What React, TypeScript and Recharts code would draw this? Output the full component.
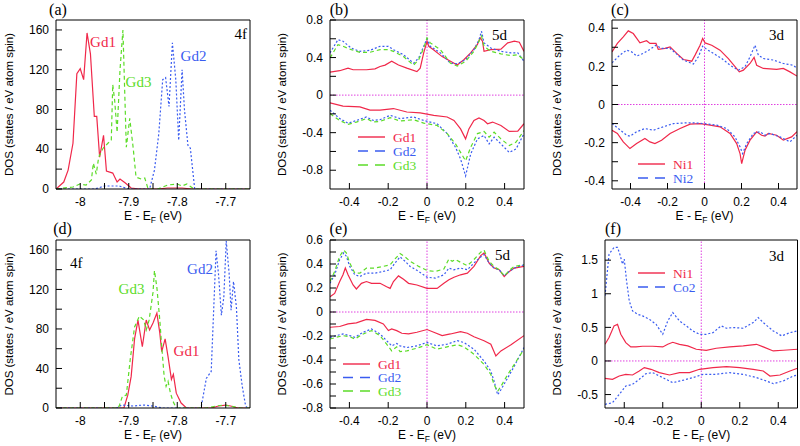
import React from "react";
import { LineChart, Line, XAxis, YAxis, ReferenceLine, Legend } from "recharts";

type Pt = [number, number];

const RED = "#f0284a";
const BLUE = "#3a5cf0";
const GREEN = "#5cdc28";
const MAGENTA = "#e040e0";
const DOT = "2 2";
const DASH = "4 3";
const SANS = "'Liberation Sans', Arial, Helvetica, sans-serif";
const SERIF = "'Liberation Serif', 'Times New Roman', serif";

// (a) Gd 4f
const aGd1: Pt[] = [[-8.05, 0], [-8.034, 7], [-8.025, 19], [-8.015, 46], [-8.007, 116], [-8.0, 121], [-7.993, 110], [-7.986, 157], [-7.979, 136], [-7.971, 73], [-7.966, 73], [-7.96, 32], [-7.952, 54], [-7.946, 18], [-7.933, 16], [-7.924, 7], [-7.918, 10], [-7.907, 6], [-7.895, 1], [-7.878, 0], [-7.84, 0], [-7.82, 1], [-7.79, 1], [-7.77, 0], [-7.65, 0]];
const aGd2: Pt[] = [[-8.05, 0], [-7.97, 0], [-7.95, 3], [-7.92, 3], [-7.9, 0], [-7.857, 0], [-7.847, 19], [-7.838, 56], [-7.83, 110], [-7.824, 112], [-7.817, 83], [-7.81, 147], [-7.803, 110], [-7.797, 49], [-7.79, 120], [-7.785, 79], [-7.778, 44], [-7.773, 41], [-7.764, 0], [-7.65, 0]];
const aGd3: Pt[] = [[-8.05, 0], [-8.015, 2], [-8.001, 5], [-7.988, 4], [-7.977, 9], [-7.973, 26], [-7.967, 15], [-7.962, 32], [-7.953, 41], [-7.943, 46], [-7.936, 49], [-7.933, 105], [-7.929, 89], [-7.924, 57], [-7.918, 120], [-7.912, 160], [-7.905, 42], [-7.898, 71], [-7.891, 42], [-7.885, 12], [-7.874, 10], [-7.867, 11], [-7.86, 0], [-7.84, 0], [-7.82, 4], [-7.8, 5], [-7.79, 3], [-7.78, 5], [-7.765, 0], [-7.65, 0]];

// (b) Gd 5d
const bGd1Up: Pt[] = [[-0.5, 0.244], [-0.45, 0.26], [-0.407, 0.287], [-0.381, 0.27], [-0.312, 0.27], [-0.268, 0.28], [-0.242, 0.305], [-0.216, 0.32], [-0.182, 0.36], [-0.147, 0.32], [-0.104, 0.287], [-0.052, 0.25], [-0.035, 0.287], [-0.017, 0.45], [0, 0.574], [0.009, 0.52], [0.035, 0.48], [0.078, 0.41], [0.121, 0.36], [0.156, 0.32], [0.19, 0.377], [0.225, 0.45], [0.26, 0.54], [0.274, 0.61], [0.286, 0.574], [0.294, 0.466], [0.329, 0.484], [0.381, 0.49], [0.416, 0.556], [0.45, 0.574], [0.476, 0.563], [0.5, 0.466]];
const bGd2Up: Pt[] = [[-0.5, 0.45], [-0.459, 0.59], [-0.433, 0.574], [-0.39, 0.5], [-0.346, 0.466], [-0.294, 0.477], [-0.242, 0.52], [-0.199, 0.52], [-0.173, 0.484], [-0.121, 0.43], [-0.069, 0.34], [-0.043, 0.395], [-0.017, 0.52], [0, 0.6], [0.017, 0.52], [0.069, 0.45], [0.121, 0.34], [0.156, 0.334], [0.199, 0.377], [0.242, 0.484], [0.268, 0.59], [0.281, 0.68], [0.294, 0.556], [0.329, 0.502], [0.381, 0.466], [0.433, 0.45], [0.468, 0.45], [0.5, 0.36]];
const bGd3Up: Pt[] = [[-0.5, 0.395], [-0.459, 0.538], [-0.433, 0.52], [-0.39, 0.484], [-0.346, 0.456], [-0.294, 0.456], [-0.242, 0.484], [-0.199, 0.484], [-0.173, 0.466], [-0.121, 0.41], [-0.069, 0.32], [-0.043, 0.377], [-0.017, 0.5], [0, 0.61], [0.017, 0.556], [0.069, 0.484], [0.121, 0.34], [0.156, 0.31], [0.199, 0.36], [0.242, 0.466], [0.268, 0.574], [0.281, 0.63], [0.294, 0.52], [0.329, 0.466], [0.381, 0.44], [0.433, 0.42], [0.468, 0.43], [0.5, 0.377]];
const bGd1Dn: Pt[] = [[-0.5, -0.083], [-0.433, -0.118], [-0.346, -0.126], [-0.294, -0.16], [-0.242, -0.16], [-0.173, -0.143], [-0.104, -0.18], [-0.035, -0.19], [0.035, -0.215], [0.104, -0.233], [0.139, -0.27], [0.173, -0.36], [0.199, -0.466], [0.216, -0.36], [0.242, -0.27], [0.268, -0.244], [0.294, -0.27], [0.312, -0.305], [0.338, -0.287], [0.381, -0.323], [0.424, -0.387], [0.468, -0.384], [0.5, -0.305]];
const bGd2Dn: Pt[] = [[-0.5, -0.16], [-0.45, -0.25], [-0.407, -0.3], [-0.364, -0.27], [-0.312, -0.233], [-0.277, -0.27], [-0.242, -0.262], [-0.19, -0.215], [-0.139, -0.25], [-0.069, -0.233], [-0.017, -0.27], [0.052, -0.305], [0.104, -0.41], [0.147, -0.556], [0.173, -0.68], [0.199, -0.86], [0.225, -0.628], [0.26, -0.466], [0.294, -0.43], [0.32, -0.52], [0.346, -0.448], [0.381, -0.52], [0.424, -0.61], [0.459, -0.574], [0.5, -0.41]];
const bGd3Dn: Pt[] = [[-0.5, -0.197], [-0.45, -0.27], [-0.407, -0.312], [-0.364, -0.287], [-0.312, -0.25], [-0.277, -0.287], [-0.242, -0.28], [-0.19, -0.24], [-0.139, -0.276], [-0.069, -0.262], [-0.017, -0.298], [0.052, -0.323], [0.104, -0.41], [0.147, -0.52], [0.173, -0.61], [0.199, -0.7], [0.225, -0.556], [0.26, -0.41], [0.294, -0.387], [0.32, -0.448], [0.346, -0.395], [0.381, -0.466], [0.424, -0.538], [0.459, -0.5], [0.5, -0.377]];

// (c) Ni 3d
const cNi1Up: Pt[] = [[-0.5, 0.276], [-0.471, 0.32], [-0.439, 0.355], [-0.412, 0.386], [-0.385, 0.372], [-0.349, 0.323], [-0.313, 0.334], [-0.295, 0.32], [-0.262, 0.32], [-0.25, 0.289], [-0.214, 0.294], [-0.186, 0.302], [-0.15, 0.268], [-0.114, 0.236], [-0.069, 0.227], [-0.051, 0.259], [-0.024, 0.311], [-0.01, 0.346], [0.003, 0.323], [0.039, 0.311], [0.084, 0.285], [0.129, 0.241], [0.165, 0.198], [0.188, 0.171], [0.21, 0.18], [0.246, 0.215], [0.268, 0.247], [0.282, 0.206], [0.318, 0.189], [0.39, 0.184], [0.426, 0.189], [0.462, 0.171], [0.5, 0.149]];
const cNi2Up: Pt[] = [[-0.5, 0.219], [-0.457, 0.259], [-0.421, 0.285], [-0.394, 0.276], [-0.367, 0.254], [-0.331, 0.268], [-0.295, 0.289], [-0.262, 0.311], [-0.232, 0.294], [-0.186, 0.294], [-0.15, 0.264], [-0.114, 0.233], [-0.06, 0.212], [-0.033, 0.25], [-0.01, 0.306], [0.012, 0.289], [0.048, 0.268], [0.093, 0.241], [0.138, 0.206], [0.183, 0.18], [0.219, 0.198], [0.246, 0.25], [0.273, 0.311], [0.291, 0.259], [0.318, 0.241], [0.372, 0.233], [0.426, 0.215], [0.48, 0.206], [0.5, 0.189]];
const cNi1Dn: Pt[] = [[-0.5, -0.135], [-0.471, -0.152], [-0.439, -0.196], [-0.403, -0.231], [-0.367, -0.205], [-0.322, -0.178], [-0.295, -0.196], [-0.268, -0.205], [-0.232, -0.187], [-0.186, -0.152], [-0.132, -0.126], [-0.078, -0.103], [-0.024, -0.1], [0.03, -0.108], [0.084, -0.117], [0.138, -0.152], [0.174, -0.205], [0.192, -0.257], [0.201, -0.31], [0.219, -0.24], [0.246, -0.187], [0.282, -0.143], [0.309, -0.161], [0.327, -0.166], [0.345, -0.152], [0.39, -0.161], [0.426, -0.187], [0.471, -0.17], [0.5, -0.143]];
const cNi2Dn: Pt[] = [[-0.5, -0.1], [-0.466, -0.126], [-0.421, -0.161], [-0.403, -0.166], [-0.367, -0.143], [-0.322, -0.126], [-0.277, -0.135], [-0.223, -0.117], [-0.168, -0.1], [-0.096, -0.096], [-0.06, -0.096], [-0.006, -0.1], [0.066, -0.108], [0.12, -0.126], [0.165, -0.17], [0.192, -0.222], [0.206, -0.257], [0.228, -0.205], [0.264, -0.152], [0.3, -0.143], [0.327, -0.161], [0.354, -0.152], [0.408, -0.17], [0.462, -0.196], [0.5, -0.161]];

// (d) Gd 4f
const dGd1: Pt[] = [[-8.05, 0], [-7.91, 0], [-7.902, 13], [-7.895, 32], [-7.888, 70], [-7.881, 89], [-7.872, 62], [-7.864, 89], [-7.857, 79], [-7.85, 86], [-7.842, 96], [-7.836, 76], [-7.832, 57], [-7.825, 70], [-7.819, 52], [-7.812, 29], [-7.808, 34], [-7.802, 15], [-7.792, 5], [-7.781, 0], [-7.73, 0], [-7.715, 2], [-7.7, 3], [-7.69, 2], [-7.675, 0], [-7.65, 0]];
const dGd2: Pt[] = [[-8.05, 0], [-7.925, 0], [-7.915, 3], [-7.89, 2], [-7.87, 3], [-7.85, 2], [-7.83, 0], [-7.751, 0], [-7.74, 30], [-7.73, 37], [-7.72, 159], [-7.715, 136], [-7.709, 94], [-7.704, 112], [-7.699, 169], [-7.693, 136], [-7.689, 99], [-7.684, 128], [-7.678, 102], [-7.673, 49], [-7.666, 22], [-7.659, 2], [-7.655, 0], [-7.65, 0]];
const dGd3: Pt[] = [[-8.05, 0], [-7.922, 0], [-7.919, 3], [-7.913, 12], [-7.905, 13], [-7.897, 49], [-7.888, 82], [-7.878, 93], [-7.869, 89], [-7.864, 79], [-7.858, 89], [-7.85, 117], [-7.847, 139], [-7.842, 122], [-7.836, 89], [-7.832, 62], [-7.827, 32], [-7.823, 22], [-7.819, 27], [-7.814, 15], [-7.809, 7], [-7.802, 0], [-7.74, 0], [-7.72, 2], [-7.705, 3], [-7.69, 2], [-7.67, 0], [-7.65, 0]];

// (e) Gd 5d
const eGd1Up: Pt[] = [[-0.5, 0.127], [-0.476, 0.155], [-0.45, 0.254], [-0.433, 0.31], [-0.421, 0.366], [-0.407, 0.31], [-0.381, 0.225], [-0.364, 0.192], [-0.338, 0.239], [-0.312, 0.254], [-0.286, 0.239], [-0.242, 0.239], [-0.208, 0.211], [-0.19, 0.197], [-0.173, 0.254], [-0.147, 0.301], [-0.121, 0.273], [-0.095, 0.239], [-0.052, 0.225], [0, 0.197], [0.052, 0.197], [0.087, 0.239], [0.113, 0.268], [0.139, 0.29], [0.173, 0.31], [0.208, 0.324], [0.242, 0.38], [0.277, 0.47], [0.294, 0.493], [0.32, 0.408], [0.346, 0.366], [0.372, 0.352], [0.398, 0.296], [0.424, 0.338], [0.45, 0.366], [0.5, 0.38]];
const eGd2Up: Pt[] = [[-0.5, 0.239], [-0.476, 0.31], [-0.45, 0.437], [-0.429, 0.493], [-0.416, 0.465], [-0.398, 0.38], [-0.372, 0.31], [-0.346, 0.296], [-0.312, 0.324], [-0.268, 0.324], [-0.225, 0.338], [-0.19, 0.352], [-0.165, 0.408], [-0.139, 0.459], [-0.113, 0.423], [-0.087, 0.38], [-0.043, 0.338], [0, 0.29], [0.043, 0.282], [0.087, 0.31], [0.113, 0.366], [0.139, 0.352], [0.173, 0.366], [0.208, 0.352], [0.242, 0.408], [0.277, 0.459], [0.294, 0.479], [0.32, 0.408], [0.346, 0.366], [0.372, 0.352], [0.398, 0.301], [0.424, 0.338], [0.45, 0.366], [0.5, 0.394]];
const eGd3Up: Pt[] = [[-0.5, 0.254], [-0.476, 0.338], [-0.45, 0.465], [-0.429, 0.515], [-0.416, 0.493], [-0.398, 0.408], [-0.372, 0.324], [-0.346, 0.324], [-0.312, 0.366], [-0.268, 0.366], [-0.225, 0.38], [-0.19, 0.394], [-0.165, 0.442], [-0.139, 0.487], [-0.113, 0.459], [-0.087, 0.423], [-0.043, 0.38], [0, 0.346], [0.043, 0.338], [0.087, 0.358], [0.113, 0.442], [0.13, 0.423], [0.147, 0.437], [0.173, 0.414], [0.208, 0.386], [0.242, 0.437], [0.277, 0.499], [0.294, 0.515], [0.32, 0.423], [0.346, 0.38], [0.372, 0.352], [0.398, 0.301], [0.424, 0.346], [0.45, 0.38], [0.5, 0.394]];
const eGd1Dn: Pt[] = [[-0.5, -0.127], [-0.45, -0.121], [-0.407, -0.099], [-0.364, -0.09], [-0.312, -0.062], [-0.268, -0.07], [-0.225, -0.099], [-0.199, -0.155], [-0.182, -0.141], [-0.156, -0.155], [-0.13, -0.177], [-0.095, -0.183], [-0.052, -0.169], [0, -0.146], [0.035, -0.169], [0.078, -0.197], [0.121, -0.183], [0.173, -0.163], [0.208, -0.177], [0.242, -0.206], [0.294, -0.239], [0.329, -0.268], [0.355, -0.366], [0.381, -0.324], [0.433, -0.273], [0.5, -0.197]];
const eGd2Dn: Pt[] = [[-0.5, -0.211], [-0.468, -0.197], [-0.433, -0.183], [-0.398, -0.197], [-0.372, -0.211], [-0.329, -0.169], [-0.286, -0.141], [-0.242, -0.183], [-0.208, -0.239], [-0.182, -0.282], [-0.156, -0.262], [-0.139, -0.282], [-0.104, -0.296], [-0.052, -0.282], [0, -0.254], [0.052, -0.282], [0.104, -0.268], [0.156, -0.239], [0.19, -0.254], [0.242, -0.31], [0.294, -0.408], [0.329, -0.493], [0.346, -0.577], [0.364, -0.69], [0.381, -0.648], [0.416, -0.549], [0.45, -0.451], [0.5, -0.296]];
const eGd3Dn: Pt[] = [[-0.5, -0.225], [-0.468, -0.211], [-0.433, -0.197], [-0.398, -0.206], [-0.372, -0.225], [-0.329, -0.183], [-0.286, -0.155], [-0.242, -0.197], [-0.208, -0.268], [-0.182, -0.324], [-0.156, -0.29], [-0.139, -0.33], [-0.104, -0.324], [-0.052, -0.301], [0, -0.273], [0.052, -0.31], [0.104, -0.29], [0.156, -0.273], [0.19, -0.29], [0.242, -0.352], [0.294, -0.437], [0.329, -0.521], [0.346, -0.606], [0.364, -0.662], [0.381, -0.62], [0.416, -0.521], [0.45, -0.437], [0.5, -0.31]];

// (f) Ni / Co 3d
const fNi1Up: Pt[] = [[-0.5, 0.248], [-0.479, 0.348], [-0.453, 0.522], [-0.435, 0.546], [-0.418, 0.397], [-0.392, 0.273], [-0.366, 0.209], [-0.339, 0.209], [-0.305, 0.219], [-0.252, 0.219], [-0.2, 0.209], [-0.174, 0.248], [-0.148, 0.278], [-0.113, 0.248], [-0.07, 0.224], [-0.026, 0.174], [0.026, 0.159], [0.078, 0.189], [0.148, 0.209], [0.218, 0.224], [0.287, 0.248], [0.322, 0.209], [0.374, 0.149], [0.426, 0.159], [0.5, 0.174]];
const fCo2Up: Pt[] = [[-0.5, 0.969], [-0.479, 1.59], [-0.453, 1.689], [-0.435, 1.689], [-0.423, 1.59], [-0.409, 1.441], [-0.4, 1.515], [-0.388, 1.192], [-0.374, 0.894], [-0.357, 0.745], [-0.331, 0.695], [-0.305, 0.671], [-0.27, 0.621], [-0.235, 0.546], [-0.2, 0.397], [-0.174, 0.596], [-0.148, 0.72], [-0.113, 0.596], [-0.078, 0.522], [-0.044, 0.447], [-0.009, 0.397], [0.026, 0.397], [0.061, 0.422], [0.104, 0.522], [0.131, 0.487], [0.165, 0.497], [0.218, 0.487], [0.27, 0.571], [0.296, 0.646], [0.322, 0.571], [0.374, 0.447], [0.418, 0.373], [0.461, 0.422], [0.5, 0.447]];
const fNi1Dn: Pt[] = [[-0.5, -0.258], [-0.461, -0.273], [-0.426, -0.224], [-0.392, -0.199], [-0.357, -0.209], [-0.322, -0.149], [-0.296, -0.099], [-0.261, -0.124], [-0.218, -0.174], [-0.165, -0.209], [-0.113, -0.174], [-0.061, -0.174], [-0.009, -0.124], [0.061, -0.099], [0.131, -0.084], [0.2, -0.099], [0.27, -0.124], [0.322, -0.149], [0.357, -0.224], [0.409, -0.209], [0.461, -0.149], [0.5, -0.109]];
const fCo2Dn: Pt[] = [[-0.5, -0.646], [-0.461, -0.621], [-0.426, -0.497], [-0.392, -0.373], [-0.357, -0.348], [-0.322, -0.273], [-0.287, -0.189], [-0.252, -0.174], [-0.2, -0.248], [-0.148, -0.323], [-0.096, -0.288], [-0.044, -0.248], [0.009, -0.199], [0.078, -0.199], [0.148, -0.174], [0.218, -0.199], [0.287, -0.248], [0.339, -0.298], [0.374, -0.338], [0.426, -0.298], [0.478, -0.224], [0.5, -0.209]];

// ticks
const gdXTicks = [-8, -7.95, -7.9, -7.85, -7.8, -7.75, -7.7];
const gdXLabels = [-8, -7.9, -7.8, -7.7];
const gdYTicks = [0, 20, 40, 60, 80, 100, 120, 140, 160];
const gdYLabels = [0, 40, 80, 120, 160];
const eXTicks = [-0.4, -0.2, 0, 0.2, 0.4];
const bYTicks = [-0.8, -0.6, -0.4, -0.2, 0, 0.2, 0.4, 0.6, 0.8];
const bYLabels = [-0.8, -0.4, 0, 0.4, 0.8];
const cYTicks = [-0.4, -0.3, -0.2, -0.1, 0, 0.1, 0.2, 0.3, 0.4];
const cYLabels = [-0.4, -0.2, 0, 0.2, 0.4];
const eYTicks = [-0.8, -0.7, -0.6, -0.5, -0.4, -0.3, -0.2, -0.1, 0, 0.1, 0.2, 0.3, 0.4, 0.5, 0.6];
const eYLabels = [-0.8, -0.6, -0.4, -0.2, 0, 0.2, 0.4, 0.6];
const fYTicks = [-0.5, 0, 0.5, 1, 1.5];

type Curve = { pts: Pt[]; color: string; dash?: string };
type LegendItem = { name: string; color: string; dash?: string };
type PanelCfg = {
  id: string;
  box: [number, number, number, number];
  plot: [number, number, number, number];
  xDomain: [number, number];
  yDomain: [number, number];
  xTicks: number[];
  xLabels: number[];
  yTicks: number[];
  yLabels: number[];
  yTitleX: number;
  zero: boolean;
  curves: Curve[];
  legend?: { x: number; y: number; gap: number; items: LegendItem[] };
};

const gdLegend: LegendItem[] = [
  { name: "Gd1", color: RED },
  { name: "Gd2", color: BLUE, dash: "10 7" },
  { name: "Gd3", color: GREEN, dash: "10 7" },
];

const panels: PanelCfg[] = [
  {
    id: "a", box: [0, 0, 258, 232], plot: [56, 20, 250, 189],
    xDomain: [-8.05, -7.65], yDomain: [0, 170],
    xTicks: gdXTicks, xLabels: gdXLabels, yTicks: gdYTicks, yLabels: gdYLabels,
    yTitleX: 8.5, zero: false,
    curves: [{ pts: aGd1, color: RED }, { pts: aGd2, color: BLUE, dash: DOT }, { pts: aGd3, color: GREEN, dash: DASH }],
  },
  {
    id: "b", box: [258, 0, 272, 232], plot: [330, 20, 524, 189],
    xDomain: [-0.5, 0.5], yDomain: [-1, 0.8],
    xTicks: eXTicks, xLabels: eXTicks, yTicks: bYTicks, yLabels: bYLabels,
    yTitleX: 23.7, zero: true,
    curves: [
      { pts: bGd1Up, color: RED }, { pts: bGd1Dn, color: RED },
      { pts: bGd2Up, color: BLUE, dash: DOT }, { pts: bGd2Dn, color: BLUE, dash: DOT },
      { pts: bGd3Up, color: GREEN, dash: DASH }, { pts: bGd3Dn, color: GREEN, dash: DASH },
    ],
    legend: { x: 350, y: 128, gap: 14, items: gdLegend },
  },
  {
    id: "c", box: [530, 0, 270, 232], plot: [612, 20, 797, 189],
    xDomain: [-0.5, 0.5], yDomain: [-0.443, 0.443],
    xTicks: eXTicks, xLabels: eXTicks, yTicks: cYTicks, yLabels: cYLabels,
    yTitleX: 26.7, zero: true,
    curves: [
      { pts: cNi1Up, color: RED }, { pts: cNi1Dn, color: RED },
      { pts: cNi2Up, color: BLUE, dash: DOT }, { pts: cNi2Dn, color: BLUE, dash: DOT },
    ],
    legend: { x: 630, y: 155, gap: 14, items: [{ name: "Ni1", color: RED }, { name: "Ni2", color: BLUE, dash: "10 7" }] },
  },
  {
    id: "d", box: [0, 224, 258, 222], plot: [56, 240, 250, 408],
    xDomain: [-8.05, -7.65], yDomain: [0, 170],
    xTicks: gdXTicks, xLabels: gdXLabels, yTicks: gdYTicks, yLabels: gdYLabels,
    yTitleX: 9, zero: false,
    curves: [{ pts: dGd1, color: RED }, { pts: dGd2, color: BLUE, dash: DOT }, { pts: dGd3, color: GREEN, dash: DASH }],
  },
  {
    id: "e", box: [258, 224, 272, 222], plot: [330, 240, 524, 408],
    xDomain: [-0.5, 0.5], yDomain: [-0.8, 0.6],
    xTicks: eXTicks, xLabels: eXTicks, yTicks: eYTicks, yLabels: eYLabels,
    yTitleX: 23.7, zero: true,
    curves: [
      { pts: eGd1Up, color: RED }, { pts: eGd1Dn, color: RED },
      { pts: eGd2Up, color: BLUE, dash: DOT }, { pts: eGd2Dn, color: BLUE, dash: DOT },
      { pts: eGd3Up, color: GREEN, dash: DASH }, { pts: eGd3Dn, color: GREEN, dash: DASH },
    ],
    legend: { x: 335, y: 355, gap: 13.5, items: gdLegend },
  },
  {
    id: "f", box: [530, 224, 270, 222], plot: [605, 240, 797.5, 408],
    xDomain: [-0.5, 0.5], yDomain: [-0.7, 1.8],
    xTicks: eXTicks, xLabels: eXTicks, yTicks: fYTicks, yLabels: fYTicks,
    yTitleX: 26.7, zero: true,
    curves: [
      { pts: fNi1Up, color: RED }, { pts: fNi1Dn, color: RED },
      { pts: fCo2Up, color: BLUE, dash: DOT }, { pts: fCo2Dn, color: BLUE, dash: DOT },
    ],
    legend: { x: 630, y: 264, gap: 14, items: [{ name: "Ni1", color: RED }, { name: "Co2", color: BLUE, dash: "10 7" }] },
  },
];

// text drawn on top of the panels
const notes = [
  { t: "(a)", x: 58, y: 9, c: "#000", a: "middle" },
  { t: "(b)", x: 339, y: 9, c: "#000", a: "middle" },
  { t: "(c)", x: 620, y: 9, c: "#000", a: "middle" },
  { t: "(d)", x: 62.5, y: 228, c: "#000", a: "middle" },
  { t: "(e)", x: 338.5, y: 228, c: "#000", a: "middle" },
  { t: "(f)", x: 613, y: 228, c: "#000", a: "middle" },
  { t: "4f", x: 247, y: 34, c: "#000", a: "end" },
  { t: "5d", x: 507, y: 35, c: "#000", a: "end" },
  { t: "3d", x: 784, y: 35, c: "#000", a: "end" },
  { t: "4f", x: 70, y: 263, c: "#000", a: "start" },
  { t: "5d", x: 510, y: 255, c: "#000", a: "end" },
  { t: "3d", x: 784, y: 256, c: "#000", a: "end" },
  { t: "Gd1", x: 103, y: 42, c: RED, a: "middle" },
  { t: "Gd3", x: 138.5, y: 82, c: GREEN, a: "middle" },
  { t: "Gd2", x: 193.5, y: 56, c: BLUE, a: "middle" },
  { t: "Gd3", x: 131.5, y: 289, c: GREEN, a: "middle" },
  { t: "Gd2", x: 200, y: 269, c: BLUE, a: "middle" },
  { t: "Gd1", x: 186.5, y: 351, c: RED, a: "middle" },
];

const rows = (pts: Pt[]) => pts.map(([x, y]) => ({ x, y }));
const fmt = (labels: number[]) => (v: number) =>
  labels.some((l) => Math.abs(l - v) < 1e-9) ? String(Math.round(v * 1000) / 1000) : "";

const tickStyle = { fill: "#000", fontSize: 12, fontFamily: SANS };

function Panel({ cfg }: { cfg: PanelCfg }) {
  const [bl, bt, bw, bh] = cfg.box;
  const [x0, y0, x1, y1] = cfg.plot;
  const cx = (x0 + x1) / 2 - bl;
  const cy = (y0 + y1) / 2 - bt;
  const lg = cfg.legend;
  return (
    <div style={{ position: "absolute", left: bl, top: bt }}>
      <LineChart
        width={bw}
        height={bh}
        margin={{ top: y0 - bt - 1, right: bl + bw - x1 - 1, left: 0, bottom: 0 }}
      >
        <XAxis
          xAxisId="b" type="number" dataKey="x" domain={cfg.xDomain} allowDataOverflow
          ticks={cfg.xTicks} interval={0} tickSize={-6} tickMargin={14}
          height={bt + bh - y1} stroke="#000" tick={tickStyle} tickFormatter={fmt(cfg.xLabels)}
          label={{
            content: () => (
              <text x={cx} y={y1 - bt + 31} textAnchor="middle" fontSize={12} fontFamily={SANS} fill="#000">
                E - E<tspan fontSize={8.5} dy={3}>F</tspan>
                <tspan dy={-3}> (eV)</tspan>
              </text>
            ),
          }}
        />
        <XAxis
          xAxisId="t" orientation="top" type="number" domain={cfg.xDomain} allowDataOverflow
          ticks={cfg.xTicks} interval={0} tickSize={-6} height={1} stroke="#000" tick={false}
        />
        <YAxis
          yAxisId="l" type="number" domain={cfg.yDomain} allowDataOverflow
          ticks={cfg.yTicks} interval={0} tickSize={-6} tickMargin={13}
          width={x0 - bl} stroke="#000" tick={tickStyle} tickFormatter={fmt(cfg.yLabels)}
          label={{
            content: () => (
              <text
                x={cfg.yTitleX} y={cy} transform={`rotate(-90 ${cfg.yTitleX} ${cy})`}
                textAnchor="middle" dominantBaseline="central" fontSize={11.5} fontFamily={SANS} fill="#000"
              >
                DOS (states / eV atom spin)
              </text>
            ),
          }}
        />
        <YAxis
          yAxisId="r" orientation="right" type="number" domain={cfg.yDomain} allowDataOverflow
          ticks={cfg.yTicks} interval={0} tickSize={-6} width={1} stroke="#000" tick={false}
        />
        {cfg.zero && (
          <ReferenceLine xAxisId="b" yAxisId="l" x={0} stroke={MAGENTA} strokeDasharray="1.5 1.5" />
        )}
        {cfg.zero && (
          <ReferenceLine xAxisId="b" yAxisId="l" y={0} stroke={MAGENTA} strokeDasharray="1.5 1.5" />
        )}
        {cfg.curves.map((c, i) => (
          <Line
            key={cfg.id + i}
            xAxisId="b"
            yAxisId="l"
            data={rows(c.pts)}
            dataKey="y"
            type="linear"
            stroke={c.color}
            strokeWidth={1.2}
            strokeDasharray={c.dash}
            dot={false}
            activeDot={false}
            isAnimationActive={false}
          />
        ))}
        {lg && (
          <Legend
            layout="vertical"
            align="center"
            verticalAlign="middle"
            wrapperStyle={{ left: lg.x - bl, top: lg.y - bt, width: 80, height: lg.gap * lg.items.length + 8 }}
            content={() => (
              <svg width={80} height={lg.gap * lg.items.length + 8}>
                {lg.items.map((it, k) => (
                  <g key={it.name}>
                    <line
                      x1={8} x2={35} y1={9 + k * lg.gap} y2={9 + k * lg.gap}
                      stroke={it.color} strokeWidth={1.4} strokeDasharray={it.dash}
                    />
                    <text x={43} y={9 + k * lg.gap} dy="0.35em" fontSize={13.5} fontFamily={SERIF} fill={it.color}>
                      {it.name}
                    </text>
                  </g>
                ))}
              </svg>
            )}
          />
        )}
      </LineChart>
    </div>
  );
}

export default function App() {
  return (
    <div style={{ position: "absolute", left: 0, top: 0, width: 800, height: 446, overflow: "hidden", background: "#fff" }}>
      {panels.map((p) => (
        <Panel key={p.id} cfg={p} />
      ))}
      <svg width={800} height={446} style={{ position: "absolute", left: 0, top: 0, pointerEvents: "none" }}>
        {notes.map((n, i) => (
          <text
            key={i} x={n.x} y={n.y} dy="0.35em" textAnchor={n.a as "start" | "middle" | "end"}
            fontSize={n.t.startsWith("(") ? 16 : 15} fontFamily={SERIF} fill={n.c}
          >
            {n.t}
          </text>
        ))}
      </svg>
    </div>
  );
}
